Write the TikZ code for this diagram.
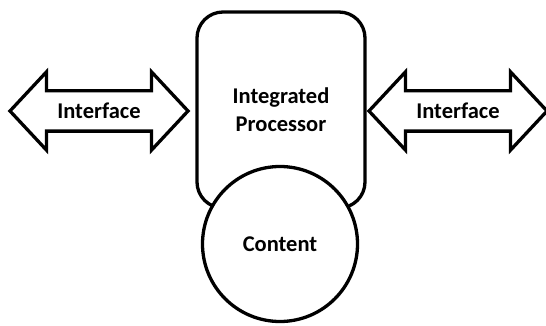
\documentclass[tikz,border=0pt]{standalone}
\usepackage{fontspec}
\setmainfont{Carlito}
\usetikzlibrary{shapes.arrows}

\begin{document}
\begin{tikzpicture}[x=1pt, y=1pt, line width=3.3pt,
  every node/.style={font=\fontsize{22.5}{28}\selectfont\bfseries},
  iface/.style={draw, double arrow, double arrow tip angle=94,
    double arrow head extend=19pt, minimum height=178pt,
    text height=15pt, text depth=0pt, inner ysep=11pt, inner xsep=0pt},
  proc/.style={draw, rounded corners=26pt, minimum width=168pt,
    minimum height=196pt, align=center, text depth=0pt},
  store/.style={draw, circle, fill=white, minimum size=155pt, inner sep=0pt}]
\useasboundingbox (0,0) rectangle (546,-326);
\node[proc] (p) at (281,-110) {Integrated\\Processor};
\node[store] (c) at (280,-244) {Content};
\node[iface] (l) at (99,-111) {Interface};
\node[iface] (r) at (458,-111) {Interface};
\end{tikzpicture}
\end{document}
